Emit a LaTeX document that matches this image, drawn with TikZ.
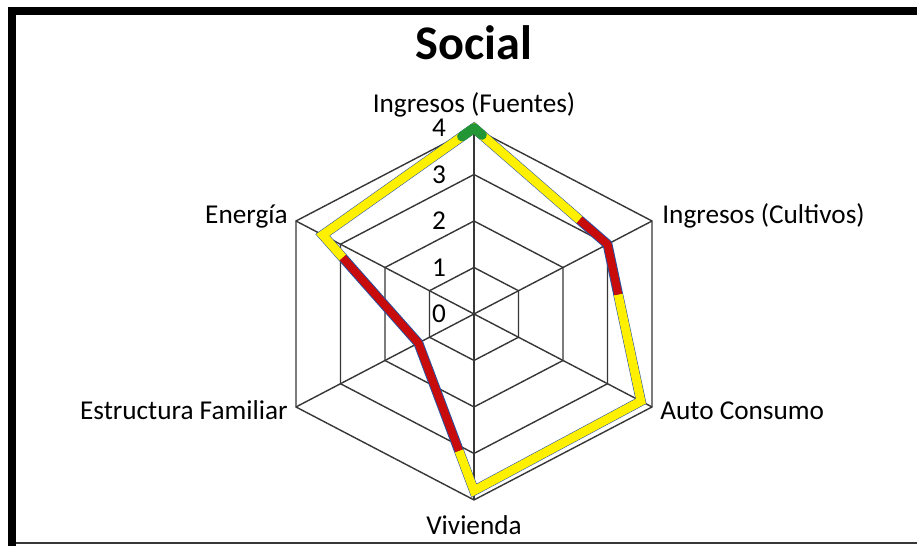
\documentclass[tikz,border=0pt]{standalone}
\usepackage{fontspec}
\setmainfont{Carlito}
\usetikzlibrary{calc}
\definecolor{ryellow}{RGB}{255,240,0}
\definecolor{rred}{RGB}{200,12,12}
\definecolor{rgreen}{RGB}{34,150,52}
\definecolor{rblue}{RGB}{40,80,160}
\definecolor{rgrid}{RGB}{55,55,55}

\begin{document}
\begin{tikzpicture}[x=0.02cm,y=0.02cm,
  grid line/.style={rgrid,line width=0.8pt},
  axis label/.style={inner sep=0pt,font=\fontsize{15.5}{18}\selectfont},
  ]
\useasboundingbox (0,0) rectangle (917,546);
\fill[white] (0,0) rectangle (917,546);
\draw[line width=4.5pt] (12,0) -- (12,535) -- (917,535);	% frame
\draw[rgrid,line width=0.6pt] (16,3) -- (917,3);
\node[anchor=base,inner sep=0pt,font=\fontsize{27.5}{32}\selectfont\bfseries] (title) at (474,486) {Social};
\begin{scope}[shift={(474,232)},x=1.028cm,y=0.93cm]
\foreach \r in {1,...,4} \draw[grid line] (90:\r) -- (30:\r) -- (-30:\r) -- (-90:\r) -- (-150:\r) -- (150:\r) -- cycle;
\foreach \a in {90,30,...,-210} \draw[grid line] (0,0) -- (\a:4);	% spokes
\foreach \v in {0,...,4} \node[axis label] (t\v) at ([xshift=-0.7cm]90:\v) {\v};
\node[axis label,anchor=base] (lF) at ([yshift=0.32cm]90:4) {Ingresos (Fuentes)};
\node[axis label,anchor=base west] (lC) at ([xshift=0.2cm,yshift=-0.04cm]30:4) {Ingresos (Cultivos)};
\node[axis label,anchor=base west] (lA) at ([xshift=0.16cm,yshift=-0.26cm]-30:4) {Auto Consumo};
\node[axis label,anchor=base] (lV) at ([yshift=-0.7cm]-90:4) {Vivienda};
\node[axis label,anchor=base east] (lEF) at ([xshift=-0.16cm,yshift=-0.26cm]-150:4) {Estructura Familiar};
\node[axis label,anchor=base east] (lE) at ([xshift=-0.16cm,yshift=-0.04cm]150:4) {Energía};
% data
\coordinate (F) at (90:4);
\coordinate (C) at (30:3);
\coordinate (A) at (-30:3.75);
\coordinate (V) at (-90:3.8);
\coordinate (EF) at (-150:1.25);
\coordinate (E) at (150:3.4);
\draw[rblue,line width=5.6pt] (F) -- (C) -- (A) -- (V) -- (EF) -- (E) -- cycle;
\draw[ryellow,line width=5pt] ($(EF)!0.79!(E)$) -- (E) -- (F) -- ($(F)!0.79!(C)$);
\draw[ryellow,line width=5pt] ($(C)!0.32!(A)$) -- (A) -- (V) -- ($(V)!0.27!(EF)$);
\draw[rred,line width=4.5pt,line join=round] ($(F)!0.79!(C)$) -- (C) -- ($(C)!0.32!(A)$);
\draw[rred,line width=4.5pt,line join=round] ($(V)!0.27!(EF)$) -- (EF) -- ($(EF)!0.79!(E)$);
\draw[rgreen,line width=5.5pt,line cap=round,line join=round] ($(F)!0.08!(E)$) -- (F) -- ($(F)!0.06!(C)$);
\end{scope}
\end{tikzpicture}
\end{document}
